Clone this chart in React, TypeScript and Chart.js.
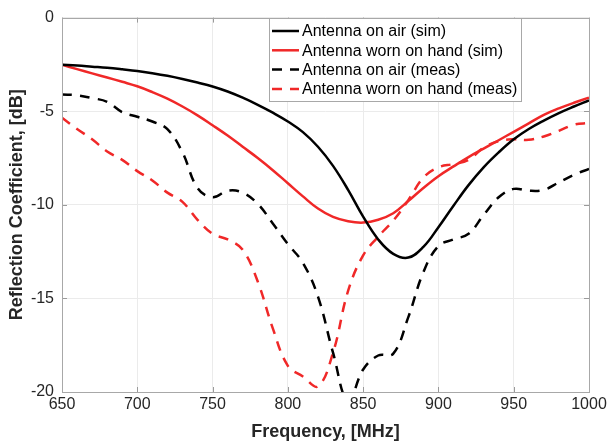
import React, { useEffect, useRef } from 'react';
import { Chart, registerables } from 'chart.js';

Chart.register(...registerables);

// Frequency grid (MHz)
const freqMHz = [
  650, 660, 670, 680, 690, 700, 710, 720, 730, 740, 750, 760, 770, 780, 790, 800,
  810, 820, 830, 840, 850, 860, 870, 880, 890, 900, 910, 920, 930, 940, 950, 960,
  970, 980, 990, 1000,
];

// Antenna on air (sim)
const simAir = [
  -2.52, -2.56, -2.62, -2.68, -2.76, -2.85, -2.97, -3.11, -3.28, -3.47, -3.68, -3.95,
  -4.28, -4.66, -5.08, -5.55, -6.12, -6.9, -7.92, -9.2, -10.63, -11.85, -12.62, -12.82,
  -12.25, -11.2, -10.05, -8.95, -8.0, -7.2, -6.5, -5.95, -5.5, -5.1, -4.75, -4.42,
];

// Antenna worn on hand (sim)
const simHand = [
  -2.52, -2.75, -2.98, -3.2, -3.43, -3.67, -3.98, -4.33, -4.75, -5.22, -5.75, -6.3,
  -6.9, -7.5, -8.15, -8.85, -9.55, -10.2, -10.65, -10.88, -10.95, -10.8, -10.45, -9.8,
  -9.1, -8.47, -7.95, -7.45, -7.0, -6.55, -6.1, -5.65, -5.2, -4.85, -4.55, -4.28,
];

// Antenna on air (meas)
const measAir = [
  -4.11, -4.15, -4.3, -4.5, -5.05, -5.3, -5.55, -5.96, -7.2, -9.1, -9.6, -9.25,
  -9.35, -9.95, -11.0, -12.1, -13.1, -14.9, -17.9, -20.5, -18.8, -18.05, -17.95, -16.0,
  -13.6, -12.2, -11.85, -11.55, -10.55, -9.6, -9.15, -9.25, -9.2, -8.8, -8.4, -8.08,
];

// Antenna worn on hand (meas)
const measHand = [
  -5.35, -5.95, -6.5, -7.15, -7.6, -8.2, -8.7, -9.35, -9.84, -10.8, -11.55, -11.85,
  -12.4, -14.1, -16.6, -18.6, -19.17, -19.7, -17.9, -14.6, -12.7, -11.7, -10.85, -9.75,
  -8.55, -8.0, -7.82, -7.6, -6.95, -6.6, -6.5, -6.53, -6.35, -6.05, -5.72, -5.63,
];

const seriesLabels = [
  'Antenna on air (sim)',
  'Antenna worn on hand (sim)',
  'Antenna on air (meas)',
  'Antenna worn on hand (meas)',
];

const xTicks = [650, 700, 750, 800, 850, 900, 950, 1000];
const yTicks = [0, -5, -10, -15, -20];

const FONT = "'Liberation Sans', Arial, Helvetica, sans-serif";
const RED = 'rgb(240, 40, 40)';
const BLACK = '#000000';
const DASH = [10, 8];

const toPoints = (vals: number[]) => vals.map((y, i) => ({ x: freqMHz[i], y }));

const framePlugin = {
  id: 'frameAndLegend',
  afterDatasetsDraw(chart: any) {
    const { ctx, chartArea: a, scales } = chart;
    ctx.save();
    // inward ticks
    ctx.strokeStyle = '#9a9a9a';
    ctx.lineWidth = 1;
    ctx.setLineDash([]);
    ctx.beginPath();
    xTicks.forEach((v) => {
      const px = Math.round(scales.x.getPixelForValue(v)) + 0.5;
      ctx.moveTo(px, a.bottom);
      ctx.lineTo(px, a.bottom - 5);
      ctx.moveTo(px, a.top);
      ctx.lineTo(px, a.top + 5);
    });
    yTicks.forEach((v) => {
      const py = Math.round(scales.y.getPixelForValue(v)) + 0.5;
      ctx.moveTo(a.left, py);
      ctx.lineTo(a.left + 5, py);
      ctx.moveTo(a.right, py);
      ctx.lineTo(a.right - 5, py);
    });
    ctx.stroke();
    // box
    ctx.strokeStyle = '#a8a8a8';
    ctx.strokeRect(Math.round(a.left) + 0.5, Math.round(a.top) + 0.5,
      Math.round(a.right - a.left), Math.round(a.bottom - a.top));

    // legend
    ctx.font = `16px ${FONT}`;
    const datasets = chart.data.datasets;
    let maxW = 0;
    datasets.forEach((d: any) => { maxW = Math.max(maxW, ctx.measureText(d.label).width); });
    const boxLeft = 269;
    const boxTop = Math.round(a.top) + 0.5;
    const sampleLen = 27;
    const boxW = 3 + sampleLen + 3 + maxW + 4;
    const rowH = 19.3;
    const boxH = 83;
    ctx.fillStyle = '#ffffff';
    ctx.fillRect(boxLeft, boxTop, boxW, boxH);
    ctx.strokeStyle = '#a8a8a8';
    ctx.strokeRect(boxLeft + 0.5, boxTop, Math.round(boxW), boxH);
    datasets.forEach((d: any, i: number) => {
      const cy = boxTop + 12.5 + i * rowH;
      ctx.beginPath();
      ctx.strokeStyle = d.borderColor;
      ctx.lineWidth = 2.5;
      ctx.setLineDash(d.borderDash || []);
      ctx.moveTo(boxLeft + 3, cy);
      ctx.lineTo(boxLeft + 3 + sampleLen, cy);
      ctx.stroke();
      ctx.setLineDash([]);
      ctx.fillStyle = '#000000';
      ctx.textBaseline = 'middle';
      ctx.textAlign = 'left';
      ctx.fillText(d.label, boxLeft + 3 + sampleLen + 3, cy + 1);
    });
    ctx.restore();
  },
};

export default function App() {
  const canvasRef = useRef<HTMLCanvasElement | null>(null);

  useEffect(() => {
    if (!canvasRef.current) return;
    const mk = (label: string, vals: number[], color: string, dash?: number[]) => ({
      label,
      data: toPoints(vals),
      borderColor: color,
      backgroundColor: color,
      borderWidth: 2.5,
      borderDash: dash,
      pointRadius: 0,
      tension: 0.4,
      fill: false,
    });
    const chart = new Chart(canvasRef.current, {
      type: 'line',
      data: {
        datasets: [
          mk(seriesLabels[0], simAir, BLACK),
          mk(seriesLabels[1], simHand, RED),
          mk(seriesLabels[2], measAir, BLACK, DASH),
          mk(seriesLabels[3], measHand, RED, DASH),
        ],
      },
      options: {
        responsive: false,
        animation: false,
        layout: { padding: { top: 12, right: 22, bottom: 0, left: 0 } },
        plugins: { legend: { display: false }, tooltip: { enabled: false } },
        scales: {
          x: {
            type: 'linear',
            min: 650,
            max: 1000,
            afterFit: (s: any) => { s.height = 55; },
            afterBuildTicks: (s: any) => { s.ticks = xTicks.map((v) => ({ value: v })); },
            ticks: {
              color: '#262626',
              font: { size: 16, family: FONT },
              padding: 3,
              maxRotation: 0,
              callback: (v: any) => String(v),
            },
            grid: { color: '#ebebeb', drawTicks: false },
            border: { display: false },
            title: {
              display: true,
              text: 'Frequency, [MHz]',
              color: '#262626',
              font: { size: 18, weight: 'bold', family: FONT },
              padding: { top: 0, bottom: 4 },
            },
          },
          y: {
            type: 'linear',
            min: -20,
            max: 0,
            afterFit: (s: any) => { s.width = 62; },
            afterBuildTicks: (s: any) => { s.ticks = yTicks.map((v) => ({ value: v })); },
            ticks: {
              color: '#262626',
              font: { size: 16, family: FONT },
              padding: 8,
              callback: (v: any) => String(v),
            },
            grid: { color: '#ebebeb', drawTicks: false },
            border: { display: false },
            title: {
              display: true,
              text: 'Reflection Coefficient, [dB]',
              color: '#262626',
              font: { size: 18, weight: 'bold', family: FONT },
              padding: { top: 6, bottom: 0 },
            },
          },
        },
      },
      plugins: [framePlugin],
    });
    return () => chart.destroy();
  }, []);

  return (
    <div style={{ position: 'absolute', left: 0, top: 0, width: 611, height: 447, background: '#fff' }}>
      <canvas ref={canvasRef} width={611} height={447} style={{ display: 'block' }} />
    </div>
  );
}
